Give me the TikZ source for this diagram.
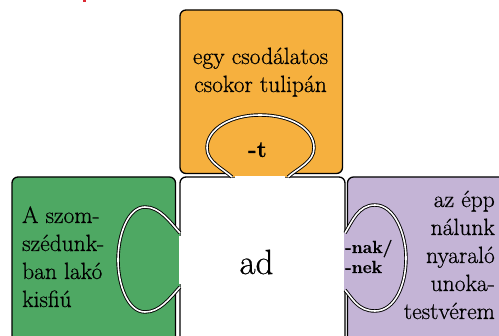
\documentclass[tikz,border=0pt]{standalone}
\usepackage{fontspec}
\setmainfont{Latin Modern Roman}[FakeBold=0.6]
\definecolor{orangeP}{RGB}{246,176,62}
\definecolor{greenP}{RGB}{78,168,99}
\definecolor{purpleP}{RGB}{196,180,214}
\definecolor{redP}{RGB}{220,40,50}
\begin{document}
\begin{tikzpicture}[x=1pt,y=-1pt,
  piece/.style={draw=black,line width=1.3pt,rounded corners=6pt},
  tabline/.style={draw=black,line width=0.9pt,double=white,double distance=1.6pt},
  lbl/.style={inner sep=0pt,font=\fontsize{23.5}{28}\selectfont},
  sfx/.style={inner sep=0pt,font=\bfseries\fontsize{17.5}{20}\selectfont}]
\clip (0,0) rectangle (499,336);
\fill[redP] (83,0) rectangle (85.5,2);
% pieces
\filldraw[piece,fill=orangeP] (180,10) rectangle (342.5,173.5);
\filldraw[piece,fill=greenP] (12,177) rectangle (175.5,370);
\filldraw[piece,fill=purpleP] (347.5,177) rectangle (530,370);
\filldraw[piece,fill=white] (180,177) rectangle (345,370);
% top tab
\fill[orangeP] (232,177) .. controls (222,168) and (207,162) .. (207,148) .. controls (207,128) and (232,115) .. (260,115) .. controls (290,115) and (314,128) .. (314,148) .. controls (314,162) and (298,168) .. (288,177) -- cycle;
\fill[white] (235,176.2) rectangle (285,178);
\draw[tabline] (232,177) .. controls (222,168) and (207,162) .. (207,148) .. controls (207,128) and (232,115) .. (260,115) .. controls (290,115) and (314,128) .. (314,148) .. controls (314,162) and (298,168) .. (288,177);
% left tab
\fill[greenP] (180,233) .. controls (170,222) and (160,207) .. (145,207) .. controls (128,207) and (118,235) .. (118,260) .. controls (118,285) and (128,312) .. (145,312) .. controls (160,312) and (170,298) .. (180,287) -- cycle;
\fill[white] (179.2,236) rectangle (181,284);
\draw[tabline] (180,233) .. controls (170,222) and (160,207) .. (145,207) .. controls (128,207) and (118,235) .. (118,260) .. controls (118,285) and (128,312) .. (145,312) .. controls (160,312) and (170,298) .. (180,287);
% right tab
\fill[purpleP] (344.2,233) -- (345,233) .. controls (352,222) and (358,205) .. (375,205) .. controls (395,205) and (406,235) .. (406,258) .. controls (406,285) and (395,311) .. (375,311) .. controls (358,311) and (352,298) .. (345,290) -- (344.2,290) -- cycle;
\draw[tabline] (345,233) .. controls (352,222) and (358,205) .. (375,205) .. controls (395,205) and (406,235) .. (406,258) .. controls (406,285) and (395,311) .. (375,311) .. controls (358,311) and (352,298) .. (345,290);
% texts
\node[lbl,anchor=base] (o1) at (260.5,64) {egy csodálatos};
\node[lbl,anchor=base] (o2) at (260.5,92) {csokor tulipán};
\node[inner sep=0pt,font=\bfseries\fontsize{23}{26}\selectfont,anchor=base] (suft) at (257.5,157) {-t};
\node[lbl,anchor=base west] (g1) at (22,223) {A szom-};
\node[lbl,anchor=base west] (g2) at (22,251) {szédunk-};
\node[lbl,anchor=base west] (g3) at (22,279) {ban lakó};
\node[lbl,anchor=base west] (g4) at (22,307) {kisfiú};
\node[lbl,anchor=base east] (p1) at (495,207) {az épp};
\node[lbl,anchor=base east] (p2) at (495,235) {nálunk};
\node[lbl,anchor=base east] (p3) at (495,263) {nyaraló};
\node[lbl,anchor=base east] (p4) at (495,291) {unoka-};
\node[lbl,anchor=base east] (p5) at (495,319) {testvérem};
\node[sfx,anchor=base west] (n1) at (345,253) {-nak/};
\node[sfx,anchor=base west] (n2) at (345,273) {-nek};
\node[inner sep=0pt,font=\fontsize{35}{40}\selectfont,anchor=base] (ad) at (256.5,274) {ad};
\end{tikzpicture}
\end{document}
